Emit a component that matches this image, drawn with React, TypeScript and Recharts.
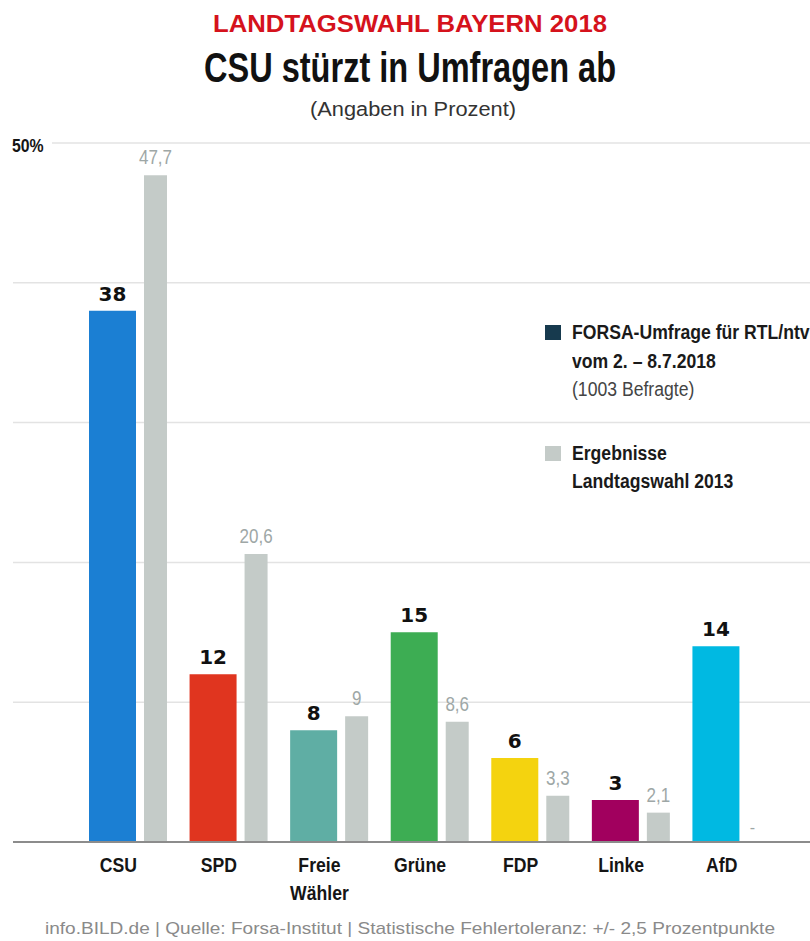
import { BarChart, Bar, XAxis, YAxis, CartesianGrid, Cell, LabelList } from "recharts";

const parties = ["CSU", "SPD", "Freie Wähler", "Grüne", "FDP", "Linke", "AfD"];
const forsa2018 = [38, 12, 8, 15, 6, 3, 14];
const wahl2013: (number | null)[] = [47.7, 20.6, 9, 8.6, 3.3, 2.1, null];
const partyColors = ["#1b7fd3", "#e0351f", "#5faea4", "#3dad53", "#f4d30f", "#a1005e", "#00b9e2"];
const yTicks = [0, 10, 20, 30, 40, 50];

const seriesNames = ["FORSA-Umfrage für RTL/ntv", "Ergebnisse Landtagswahl 2013"];
const forsaExtra = ["vom 2. – 8.7.2018", "(1003 Befragte)"];

const data = parties.map((p, i) => ({ party: p, forsa: forsa2018[i], lw2013: wahl2013[i] }));

const SANS = "'Liberation Sans', Arial, sans-serif";
const GRAY = "#c4cbc8";
const NAVY = "#173a4e";

// eslint-disable-next-line @typescript-eslint/no-explicit-any
function PartyTick({ x, y, payload }: any) {
  const lines = String(payload.value).split(" ");
  return (
    <g transform={`translate(${x - 10},${y + 30}) scale(0.84,1)`}>
      <text x={0} y={0} textAnchor="middle" fontFamily={SANS} fontWeight={700} fontSize={21} fill="#151515">
        {lines.map((l, i) => (
          <tspan key={i} x={0} dy={i === 0 ? 0 : 28}>{l}</tspan>
        ))}
      </text>
    </g>
  );
}

// eslint-disable-next-line @typescript-eslint/no-explicit-any
function PercentTick({ y, payload }: any) {
  if (payload.value !== 50) return null;
  return (
    <g>
      <rect x={0} y={y - 3} width={52} height={6} fill="#fff" />
      <g transform={`translate(12,${y + 9}) scale(0.88,1)`}>
        <text x={0} y={0} fontFamily={SANS} fontWeight={700} fontSize={18} fill="#151515">50%</text>
      </g>
    </g>
  );
}

// eslint-disable-next-line @typescript-eslint/no-explicit-any
function OldLabel({ x, y, width, value }: any) {
  if (value == null) return null;
  return (
    <g transform={`translate(${x + width / 2},${y - 11}) scale(0.85,1)`}>
      <text x={0} y={0} textAnchor="middle" fontFamily={SANS} fontWeight={400} fontSize={20} fill="#9ea7a6">
        {String(value).replace(".", ",")}
      </text>
    </g>
  );
}

// "-" where there is no 2013 result (AfD), placed in the slot of the missing grey bar
// eslint-disable-next-line @typescript-eslint/no-explicit-any
function MissingMark({ x, y, width, height, index }: any) {
  if (wahl2013[index] != null) return null;
  return (
    <text x={x + width + 8 + 5} y={y + height - 9} textAnchor="middle" fontFamily={SANS} fontSize={16} fill="#9ea7a6">
      -
    </text>
  );
}

function LegendBox() {
  const row = { display: "flex", alignItems: "flex-start", whiteSpace: "nowrap" as const };
  const txt = { fontFamily: SANS, fontSize: 20, lineHeight: "28.5px", color: "#1a1a1a", transform: "scaleX(0.88)", transformOrigin: "left top" };
  const sq = (c: string) => <div style={{ width: 16, height: 15, background: c, marginTop: 7, marginRight: 11, flexShrink: 0 }} />;
  const words = seriesNames[1].split(" ");
  return (
    <div style={{ position: "absolute", left: 545, top: 318 }}>
      <div style={row}>
        {sq(NAVY)}
        <div style={txt}>
          <div style={{ fontWeight: 700 }}>{seriesNames[0]}</div>
          <div style={{ fontWeight: 700 }}>{forsaExtra[0]}</div>
          <div style={{ fontWeight: 400, color: "#444" }}>{forsaExtra[1]}</div>
        </div>
      </div>
      <div style={{ ...row, marginTop: 35 }}>
        {sq(GRAY)}
        <div style={{ ...txt, fontWeight: 700 }}>
          <div>{words[0]}</div>
          <div>{words.slice(1).join(" ")}</div>
        </div>
      </div>
    </div>
  );
}

export default function App() {
  return (
    <div style={{ position: "absolute", left: 0, top: 0, width: 810, height: 941, background: "#fff", overflow: "hidden" }}>
      <BarChart
        width={810}
        height={941}
        data={data}
        margin={{ top: 143, right: 0, left: -27, bottom: 39 }}
        barGap={8}
      >
        <CartesianGrid horizontal vertical={false} stroke="#e3e3e3" strokeWidth={1.5} />
        <YAxis
          domain={[0, 50]}
          ticks={yTicks}
          width={40}
          axisLine={false}
          tickLine={false}
          tick={<PercentTick />}
          interval={0}
        />
        <XAxis
          dataKey="party"
          height={60}
          padding={{ left: 65, right: 28 }}
          axisLine={{ stroke: "#8c8c8c", strokeWidth: 2 }}
          tickLine={false}
          tickSize={0}
          tickMargin={0}
          tick={<PartyTick />}
          interval={0}
        />
        <Bar dataKey="forsa" name={seriesNames[0]} fill={NAVY} barSize={47} isAnimationActive={false}>
          {data.map((d, i) => (
            <Cell key={d.party} fill={partyColors[i]} />
          ))}
          <LabelList dataKey="forsa" position="top" offset={10} style={{ fontFamily: "'DejaVu Sans', sans-serif", fontWeight: 700, fontSize: 20, fill: "#111" }} />
          <LabelList dataKey="forsa" content={<MissingMark />} />
        </Bar>
        <Bar dataKey="lw2013" name={seriesNames[1]} fill={GRAY} barSize={23} isAnimationActive={false}>
          <LabelList dataKey="lw2013" content={<OldLabel />} />
        </Bar>
      </BarChart>
      <LegendBox />
      <svg width={810} height={941} style={{ position: "absolute", left: 0, top: 0, pointerEvents: "none" }}>
        <text x={410} y={32} textAnchor="middle" fontFamily={SANS} fontWeight={700} fontSize={23} fill="#d5121c" textLength={394} lengthAdjust="spacingAndGlyphs">
          LANDTAGSWAHL BAYERN 2018
        </text>
        <text x={410} y={82} textAnchor="middle" fontFamily={SANS} fontWeight={700} fontSize={42} fill="#111" textLength={412} lengthAdjust="spacingAndGlyphs">
          CSU stürzt in Umfragen ab
        </text>
        <text x={413} y={116} textAnchor="middle" fontFamily={SANS} fontWeight={400} fontSize={20} fill="#333" textLength={206} lengthAdjust="spacingAndGlyphs">
          (Angaben in Prozent)
        </text>
        <text x={410} y={934} textAnchor="middle" fontFamily={SANS} fontWeight={400} fontSize={17} fill="#8a8a8a" textLength={730} lengthAdjust="spacingAndGlyphs">
          info.BILD.de | Quelle: Forsa-Institut | Statistische Fehlertoleranz: +/- 2,5 Prozentpunkte
        </text>
      </svg>
    </div>
  );
}
